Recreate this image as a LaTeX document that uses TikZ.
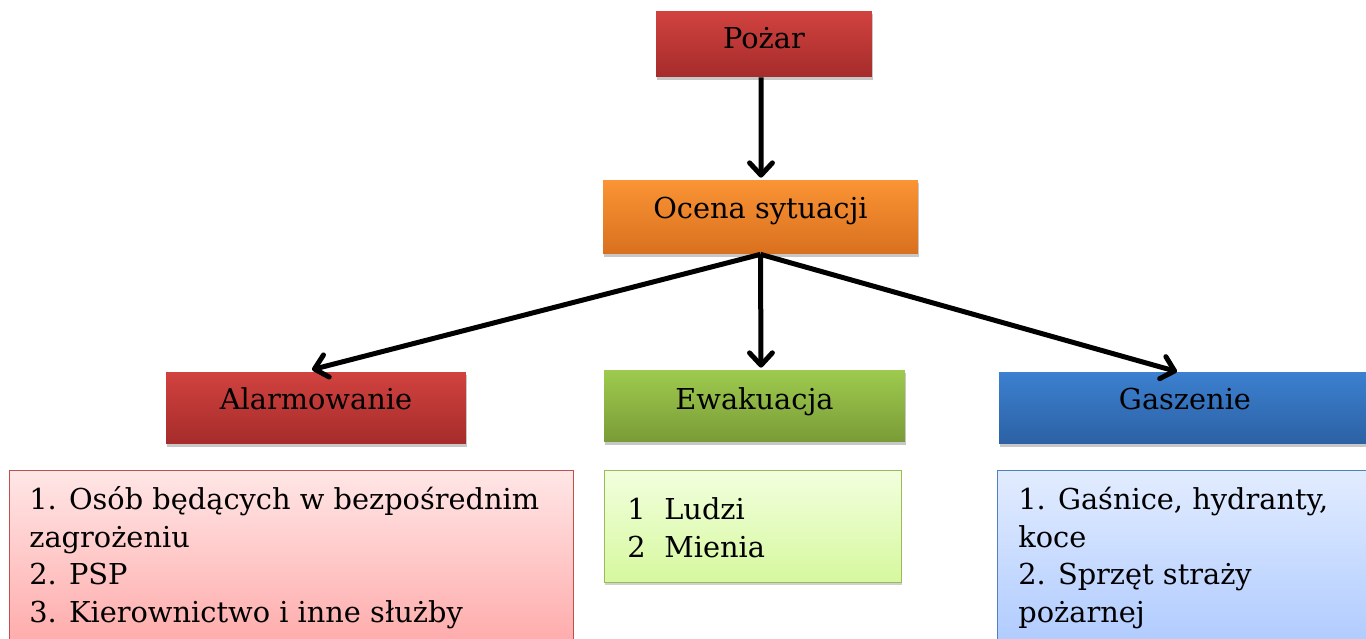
\documentclass[tikz,border=0pt]{standalone}
\usepackage{fontspec}
\setmainfont{DejaVu Serif}
\usetikzlibrary{shadows,arrows.meta}

\definecolor{redtop}{RGB}{209,66,63}
\definecolor{redbot}{RGB}{165,44,43}
\definecolor{orgtop}{RGB}{250,148,52}
\definecolor{orgbot}{RGB}{217,112,31}
\definecolor{grntop}{RGB}{158,203,78}
\definecolor{grnbot}{RGB}{121,155,55}
\definecolor{blutop}{RGB}{60,128,208}
\definecolor{blubot}{RGB}{44,97,164}
\definecolor{pinktop}{RGB}{255,230,230}
\definecolor{pinkbot}{RGB}{255,162,162}
\definecolor{pinkline}{RGB}{192,80,77}
\definecolor{lgtop}{RGB}{242,255,222}
\definecolor{lgbot}{RGB}{214,248,158}
\definecolor{lgline}{RGB}{155,187,89}
\definecolor{lbtop}{RGB}{226,236,255}
\definecolor{lbbot}{RGB}{168,198,255}
\definecolor{lbline}{RGB}{79,129,189}

\newcommand{\evnum}[1]{\makebox[0.74cm][l]{#1}}

\begin{document}
\begin{tikzpicture}[x=0.02cm,y=-0.02cm,
  txt/.style={font=\fontsize{16.4pt}{21.3pt}\selectfont},
  box/.style={shape=rectangle,draw=none,align=center,txt,text height=0.72em,text depth=0.52em,
    drop shadow={shadow xshift=0.4pt,shadow yshift=-1.6pt,opacity=0.22,fill=black}},
  listbox/.style={shape=rectangle,anchor=north west,line width=0.8pt,
    drop shadow={shadow xshift=0.4pt,shadow yshift=-1.6pt,opacity=0.18,fill=black}},
  listtext/.style={anchor=base west,align=left,inner sep=0pt,txt},
  flow/.style={draw=black,line width=0.1cm,-{Straight Barb[length=7pt,width=13pt,line cap=round,line join=round]}}]
\path[use as bounding box,fill=white] (0,0) rectangle (1366,639);
\clip (0,0) rectangle (1366,639);

\node[box,top color=redtop,bottom color=redbot,minimum width=4.32cm,minimum height=1.32cm,text height=0.9em,text depth=0.36em] (0) at (764,44) {Pożar};
\node[box,top color=orgtop,bottom color=orgbot,minimum width=6.3cm,minimum height=1.48cm] (1) at (760.5,217) {Ocena sytuacji};
\node[box,top color=redtop,bottom color=redbot,minimum width=6cm,minimum height=1.44cm] (2) at (316,408) {Alarmowanie};
\node[box,top color=grntop,bottom color=grnbot,minimum width=6.02cm,minimum height=1.44cm,text height=0.82em,text depth=0.42em] (3) at (754.5,406) {Ewakuacja};
\node[box,top color=blutop,bottom color=blubot,minimum width=7.44cm,minimum height=1.44cm] (4) at (1185,408) {Gaszenie};

\node[listbox,draw=pinkline,top color=pinktop,bottom color=pinkbot,minimum width=11.28cm,minimum height=4cm] (5) at (9,470) {};
\node[listbox,draw=lgline,top color=lgtop,bottom color=lgbot,minimum width=5.94cm,minimum height=2.24cm] (6) at (604,470) {};
\node[listbox,draw=lbline,top color=lbtop,bottom color=lbbot,minimum width=7.5cm,minimum height=4cm] (7) at (997,470) {};

% base = last line
\node[listtext] (8) at (29,622) {1. Osób będących w bezpośrednim\\zagrożeniu\\2. PSP\\3. Kierownictwo i inne służby};
\node[listtext] (9) at (627,557) {\evnum{1}Ludzi\\\evnum{2}Mienia};
\node[listtext] (10) at (1018,622) {1. Gaśnice, hydranty,\\koce\\2. Sprzęt straży\\pożarnej};

\draw [flow] ([xshift=-0.06cm]0.south) -- ([xshift=0.01cm,yshift=0.04cm]1.north);
\draw [flow] (1.south) -- ([xshift=-0.08cm,yshift=0.04cm]2.north);
\draw [flow] (1.south) -- ([xshift=0.13cm,yshift=0.04cm]3.north);
\draw [flow] (1.south) -- ([xshift=-0.16cm]4.north);
\end{tikzpicture}
\end{document}
